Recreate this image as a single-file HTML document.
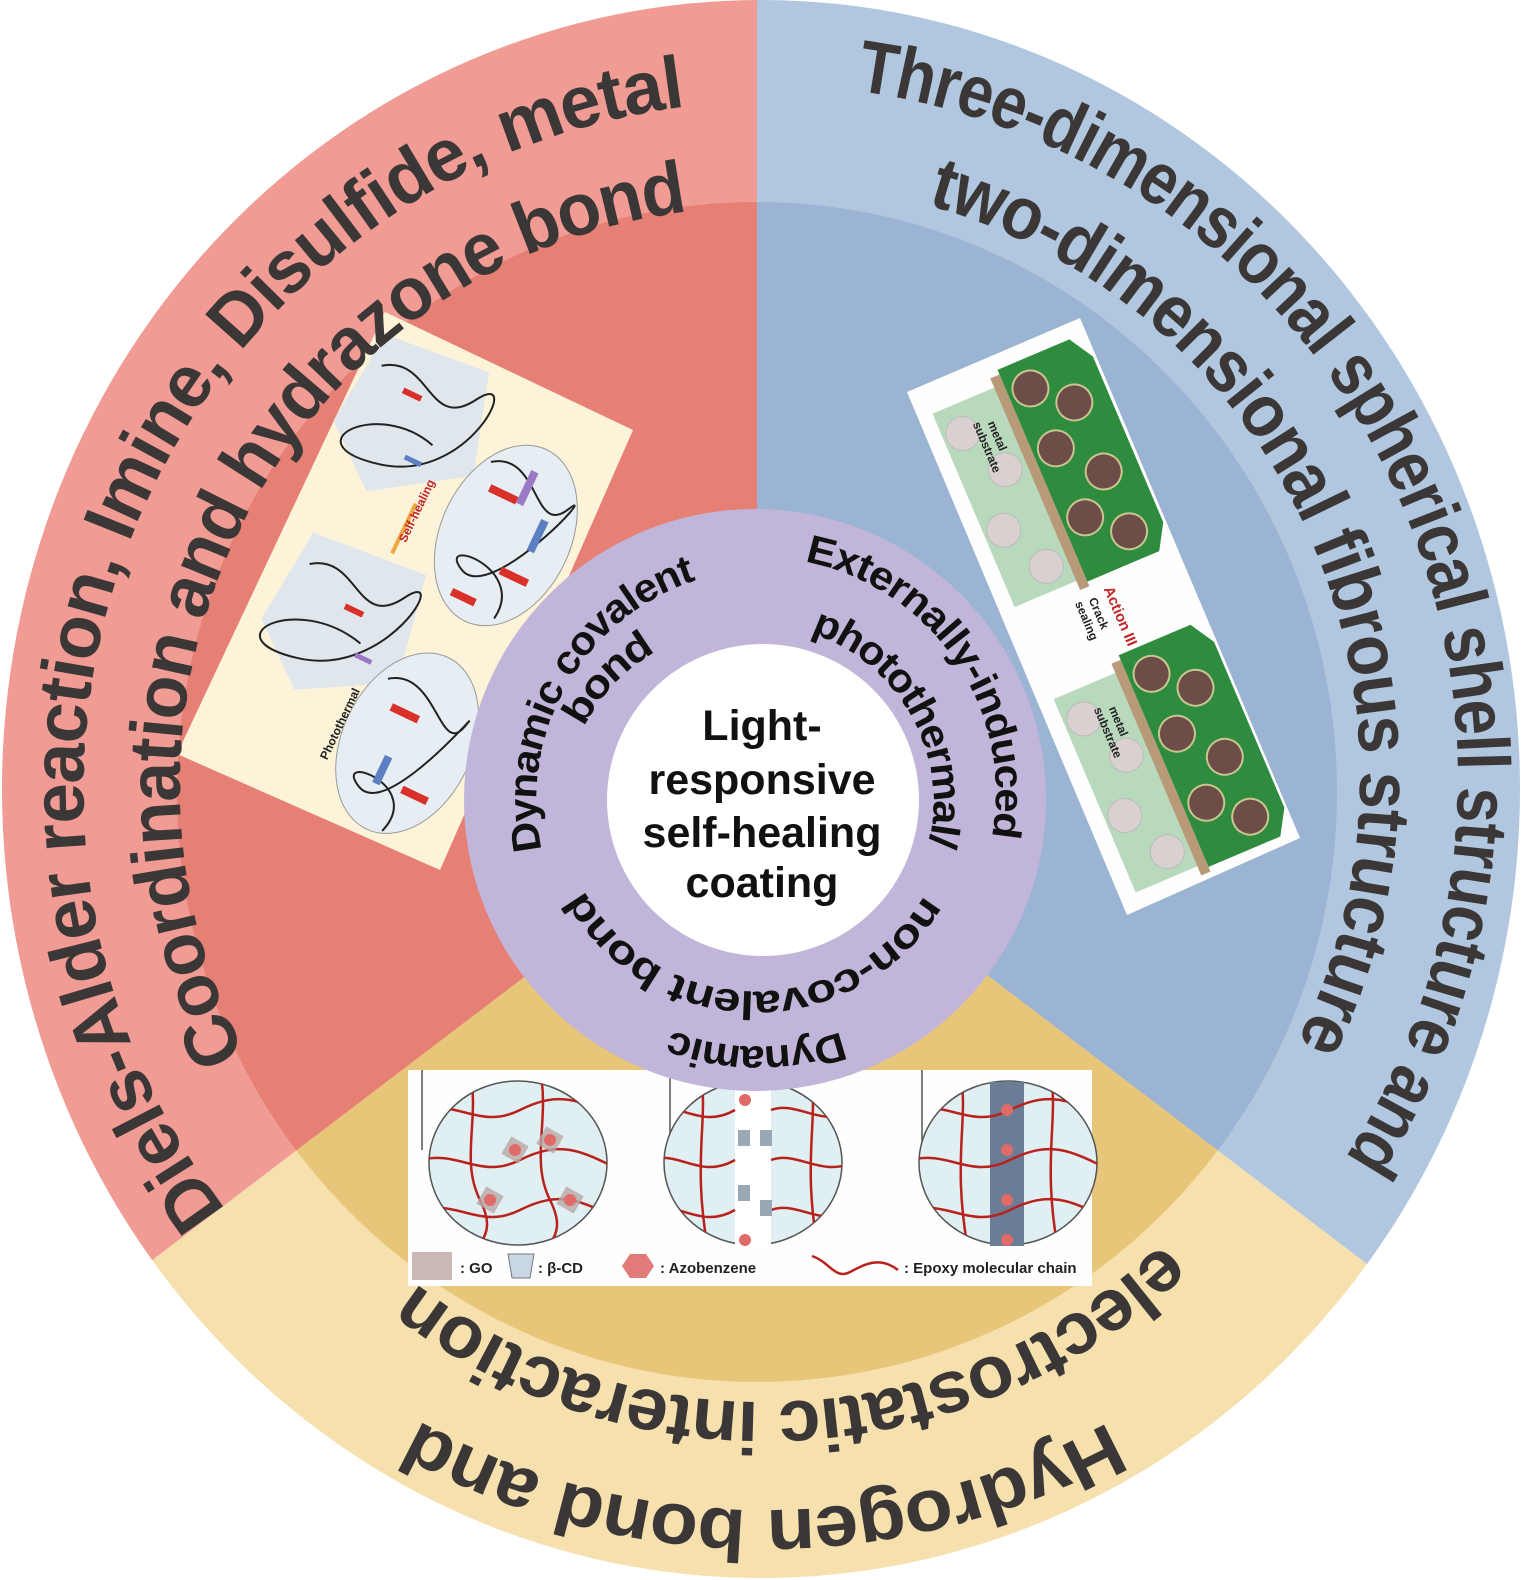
<!DOCTYPE html>
<html><head><meta charset="utf-8"><style>
html,body{margin:0;padding:0;background:#fff;width:1535px;height:1580px;overflow:hidden;}
svg{display:block;}
.o{font-family:"Liberation Sans",sans-serif;font-weight:bold;font-size:74px;fill:#3b3737;}
.p{font-family:"Liberation Sans",sans-serif;font-weight:bold;font-size:40px;fill:#111;}
.s{font-family:"Liberation Sans",sans-serif;font-weight:bold;}
</style></head><body>
<svg width="1535" height="1580" viewBox="0 0 1535 1580" xmlns="http://www.w3.org/2000/svg">
<defs>
<clipPath id="outer"><ellipse cx="761" cy="789" rx="759" ry="789"/></clipPath>
<clipPath id="inner"><ellipse cx="757" cy="792" rx="580" ry="590"/></clipPath>
<clipPath id="c1"><ellipse cx="518" cy="1163" rx="89" ry="82"/></clipPath>
<clipPath id="c2"><ellipse cx="753" cy="1163" rx="89" ry="82"/></clipPath>
<clipPath id="c3"><ellipse cx="1008" cy="1163" rx="89" ry="82"/></clipPath>
<path id="r1" d="M 205 1225 A 715 715 0 0 1 688 80"/>
<path id="r2" d="M 222 1065 A 605 605 0 0 1 690 185"/>
<path id="b1" d="M 860 65 A 720 720 0 0 1 1365 1175"/>
<path id="b2" d="M 935 180 A 620 620 0 0 1 1320 1055"/>
<path id="y1" d="M 1120 1445 A 740 740 0 0 1 400 1440"/>
<path id="y2" d="M 1180 1262 A 600 600 0 0 1 395 1300"/>
<path id="p1" d="M 528 852 A 245 245 0 0 1 790 556"/>
<path id="p2" d="M 572 720 A 190 190 0 0 1 700 620"/>
<path id="p3" d="M 808 548 A 250 250 0 0 1 983 906"/>
<path id="p4" d="M 816 620 A 192 192 0 0 1 923 896"/>
<path id="p5" d="M 936 903 A 210 210 0 0 1 554 854"/>
<path id="p6" d="M 845 1045 A 255 255 0 0 1 620 1020"/>
</defs>

<g clip-path="url(#outer)">
<polygon points="757,800 757,-500 -1000,-500 -1000,2137" fill="#f09b93"/>
<polygon points="757,800 757,-500 2500,-500 2500,2126" fill="#b0c7df"/>
<polygon points="757,800 -1000,2137 -1000,3000 2500,3000 2500,2126" fill="#f6e0ad"/>
</g>
<g clip-path="url(#inner)">
<polygon points="757,800 757,-500 -1000,-500 -1000,2137" fill="#e67f74"/>
<polygon points="757,800 757,-500 2500,-500 2500,2126" fill="#9bb4d3"/>
<polygon points="757,800 -1000,2137 -1000,3000 2500,3000 2500,2126" fill="#e8c679"/>
</g>

<!-- red image -->
<polygon points="385,312 633,430 440,870 177,754" fill="#fcf3d9"/>
<g transform="translate(385,312) rotate(25.4)">
  <polygon points="10,20 120,10 150,110 60,170 0,120" fill="#dfe6ec"/>
  <polygon points="30,230 150,220 170,330 80,380 20,330" fill="#dfe6ec"/>
  <ellipse cx="205" cy="150" rx="65" ry="95" fill="#e6eef3" stroke="#999" stroke-width="1"/>
  <ellipse cx="205" cy="380" rx="65" ry="95" fill="#e6eef3" stroke="#999" stroke-width="1"/>
  <path d="M20,50 C60,20 90,90 120,40 S150,120 60,140 S30,80 100,100 M40,260 C80,230 110,300 140,250 S160,330 70,350 S40,290 120,310" stroke="#222" stroke-width="2" fill="none"/>
  <path d="M160,90 C200,60 230,140 250,100 S220,220 180,200 S240,170 230,230 M160,330 C200,300 240,380 250,340 S220,460 180,440 S240,410 220,470" stroke="#222" stroke-width="2" fill="none"/>
  <g fill="#d9302a"><rect x="170" y="110" width="30" height="8"/><rect x="215" y="180" width="30" height="8"/><rect x="180" y="220" width="26" height="8"/><rect x="175" y="350" width="30" height="8"/><rect x="220" y="420" width="28" height="8"/><rect x="50" y="60" width="20" height="6"/><rect x="90" y="280" width="20" height="6"/></g>
  <g fill="#5b7fc0"><rect x="230" y="120" width="8" height="34"/><rect x="190" y="400" width="8" height="30"/><rect x="80" y="120" width="18" height="5"/></g>
  <g fill="#9b79c4"><rect x="200" y="80" width="8" height="36"/><rect x="120" y="320" width="18" height="5"/></g>
  <path d="M110,215 L110,160" stroke="#f0a640" stroke-width="4"/>
  <text class="s" x="118" y="200" font-size="12" fill="#c0282a" transform="rotate(-90 118 200)">Self-healing</text>
  <text class="s" x="140" y="430" font-size="12" fill="#222" transform="rotate(-90 140 430)">Photothermal</text>
</g>

<!-- blue image -->
<polygon points="907,392 1080,318 1300,838 1127,915" fill="#fdfefd"/>
<g transform="translate(907,392) rotate(-23)">
  <rect x="15" y="30" width="70" height="210" fill="#b9d9bc"/>
  <rect x="82" y="20" width="10" height="230" fill="#b89a78"/>
  <polygon points="92,15 170,15 185,40 185,220 170,245 92,245" fill="#2f8b3e"/>
  <rect x="15" y="340" width="70" height="210" fill="#b9d9bc"/>
  <rect x="82" y="330" width="10" height="230" fill="#b89a78"/>
  <polygon points="92,325 170,325 185,350 185,530 170,555 92,555" fill="#2f8b3e"/>
  <g fill="#6c4d47" stroke="#c9c690" stroke-width="2">
    <circle cx="115" cy="45" r="18"/><circle cx="150" cy="75" r="18"/><circle cx="115" cy="110" r="18"/><circle cx="150" cy="150" r="18"/><circle cx="115" cy="185" r="18"/><circle cx="150" cy="215" r="18"/>
    <circle cx="115" cy="355" r="18"/><circle cx="150" cy="385" r="18"/><circle cx="115" cy="420" r="18"/><circle cx="150" cy="460" r="18"/><circle cx="115" cy="495" r="18"/><circle cx="150" cy="525" r="18"/>
  </g>
  <g fill="#d9d0d0" stroke="#bbb" stroke-width="1">
    <circle cx="35" cy="60" r="17"/><circle cx="60" cy="110" r="17"/><circle cx="35" cy="165" r="17"/><circle cx="60" cy="215" r="17"/>
    <circle cx="35" cy="370" r="17"/><circle cx="60" cy="420" r="17"/><circle cx="35" cy="475" r="17"/><circle cx="60" cy="525" r="17"/>
  </g>
  <text class="s" x="62" y="60" font-size="12" fill="#222" transform="rotate(90 62 60)">metal</text>
  <text class="s" x="48" y="55" font-size="12" fill="#222" transform="rotate(90 48 55)">substrate</text>
  <text class="s" x="104" y="258" font-size="15" fill="#c0282a" transform="rotate(90 104 258)">Action III</text>
  <text class="s" x="86" y="262" font-size="12" fill="#222" transform="rotate(90 86 262)">Crack</text>
  <text class="s" x="72" y="260" font-size="12" fill="#222" transform="rotate(90 72 260)">sealing</text>
  <text class="s" x="62" y="370" font-size="12" fill="#222" transform="rotate(90 62 370)">metal</text>
  <text class="s" x="48" y="365" font-size="12" fill="#222" transform="rotate(90 48 365)">substrate</text>
</g>

<!-- yellow image -->
<rect x="408" y="1070" width="684" height="216" fill="#fefefe"/>
<g stroke="#555" stroke-width="1.5"><line x1="422" y1="1070" x2="422" y2="1150"/><line x1="670" y1="1070" x2="670" y2="1150"/><line x1="922" y1="1070" x2="922" y2="1150"/></g>
<ellipse cx="518" cy="1163" rx="89" ry="82" fill="#dfeff2" stroke="#555" stroke-width="1.5"/>
<ellipse cx="753" cy="1163" rx="89" ry="82" fill="#dfeff2" stroke="#555" stroke-width="1.5"/>
<ellipse cx="1008" cy="1163" rx="89" ry="82" fill="#dfeff2" stroke="#555" stroke-width="1.5"/>
<rect x="735" y="1082" width="36" height="164" fill="#fff"/>
<rect x="990" y="1082" width="34" height="164" fill="#6b7d96"/>
<g fill="none" stroke="#b8211c" stroke-width="2.5">
 <g clip-path="url(#c1)"><path d="M420,1110 C460,1100 480,1130 520,1110 S580,1100 620,1120 M420,1160 C460,1150 480,1180 520,1160 S580,1150 620,1170 M420,1210 C460,1200 480,1230 520,1210 S580,1200 620,1220 M470,1070 C480,1120 460,1160 480,1200 S470,1240 480,1260 M540,1070 C550,1120 530,1160 550,1200 S540,1240 550,1260"/></g>
 <g clip-path="url(#c2)"><path d="M650,1110 C680,1100 700,1130 735,1110 M650,1160 C680,1150 700,1180 735,1160 M650,1210 C680,1200 700,1230 735,1210 M771,1110 C800,1100 820,1130 860,1110 M771,1160 C800,1150 820,1180 860,1160 M771,1210 C800,1200 820,1230 860,1210 M700,1070 C710,1120 690,1160 710,1260 M810,1070 C820,1120 800,1160 820,1260"/></g>
 <g clip-path="url(#c3)"><path d="M910,1110 C950,1100 970,1130 1010,1110 S1070,1100 1110,1120 M910,1160 C950,1150 970,1180 1010,1160 S1070,1150 1110,1170 M910,1210 C950,1200 970,1230 1010,1210 S1070,1200 1110,1220 M960,1070 C970,1120 950,1160 970,1260 M1050,1070 C1060,1120 1040,1160 1060,1260"/></g>
</g>
<g fill="#b9a9a6" opacity="0.8"><rect x="505" y="1140" width="20" height="20" transform="rotate(30 515 1150)"/><rect x="540" y="1130" width="20" height="20" transform="rotate(30 550 1140)"/><rect x="480" y="1190" width="20" height="20" transform="rotate(30 490 1200)"/><rect x="560" y="1190" width="20" height="20" transform="rotate(30 570 1200)"/></g>
<g fill="#e06a68"><circle cx="515" cy="1150" r="6"/><circle cx="550" cy="1140" r="6"/><circle cx="490" cy="1200" r="6"/><circle cx="570" cy="1200" r="6"/><circle cx="1007" cy="1110" r="6"/><circle cx="1007" cy="1150" r="6"/><circle cx="1007" cy="1200" r="6"/><circle cx="1007" cy="1240" r="6"/><circle cx="745" cy="1100" r="6"/><circle cx="745" cy="1240" r="6"/></g>
<g fill="#9aa8b6"><rect x="738" y="1130" width="12" height="16"/><rect x="760" y="1130" width="12" height="16"/><rect x="738" y="1185" width="12" height="16"/><rect x="760" y="1200" width="12" height="16"/></g>
<rect x="412" y="1252" width="40" height="28" fill="#c8b9b5"/>
<text class="s" x="460" y="1273" font-size="15" fill="#222">: GO</text>
<path d="M508,1254 L534,1254 L530,1278 L512,1278 Z" fill="#c9d6e4" stroke="#777"/>
<text class="s" x="538" y="1273" font-size="15" fill="#222">: β-CD</text>
<polygon points="630,1254 646,1254 654,1266 646,1278 630,1278 622,1266" fill="#e07b7a"/>
<text class="s" x="660" y="1273" font-size="15" fill="#222">: Azobenzene</text>
<path d="M812,1256 C830,1262 835,1280 850,1272 S880,1256 898,1270" fill="none" stroke="#b8211c" stroke-width="2.5"/>
<text class="s" x="904" y="1273" font-size="15" fill="#222">: Epoxy molecular chain</text>

<!-- center -->
<circle cx="755" cy="800" r="291" fill="#c1b6da"/>
<circle cx="763" cy="800" r="156" fill="#fff"/>
<g class="s" font-size="43" fill="#111" text-anchor="middle">
<text x="762" y="740">Light-</text>
<text x="762" y="794">responsive</text>
<text x="762" y="847">self-healing</text>
<text x="762" y="897">coating</text>
</g>

<text class="p" dy="14"><textPath href="#p1" textLength="360" lengthAdjust="spacingAndGlyphs">Dynamic covalent</textPath></text>
<text class="p" dy="14"><textPath href="#p2" textLength="112" lengthAdjust="spacingAndGlyphs">bond</textPath></text>
<text class="p" dy="14"><textPath href="#p3" textLength="390" lengthAdjust="spacingAndGlyphs">Externally-induced</textPath></text>
<text class="p" dy="14"><textPath href="#p4" textLength="286" lengthAdjust="spacingAndGlyphs">photothermal/</textPath></text>
<text class="p" dy="14"><textPath href="#p5" textLength="440" lengthAdjust="spacingAndGlyphs">non-covalent bond</textPath></text>
<text class="p" dy="14"><textPath href="#p6" textLength="182" lengthAdjust="spacingAndGlyphs">Dynamic</textPath></text>

<text class="o" dy="26"><textPath href="#r1" textLength="1500" lengthAdjust="spacingAndGlyphs">Diels-Alder reaction, Imine, Disulfide, metal</textPath></text>
<text class="o" dy="26"><textPath href="#r2" textLength="1165" lengthAdjust="spacingAndGlyphs">Coordination and hydrazone bond</textPath></text>
<text class="o" dy="26"><textPath href="#b1" textLength="1450" lengthAdjust="spacingAndGlyphs">Three-dimensional spherical shell structure and</textPath></text>
<text class="o" dy="26"><textPath href="#b2" textLength="1090" lengthAdjust="spacingAndGlyphs">two-dimensional fibrous structure</textPath></text>
<text class="o" dy="26"><textPath href="#y1" textLength="745" lengthAdjust="spacingAndGlyphs">Hydrogen bond and</textPath></text>
<text class="o" dy="26"><textPath href="#y2" textLength="850" lengthAdjust="spacingAndGlyphs">electrostatic interaction</textPath></text>
</svg>
</body></html>
